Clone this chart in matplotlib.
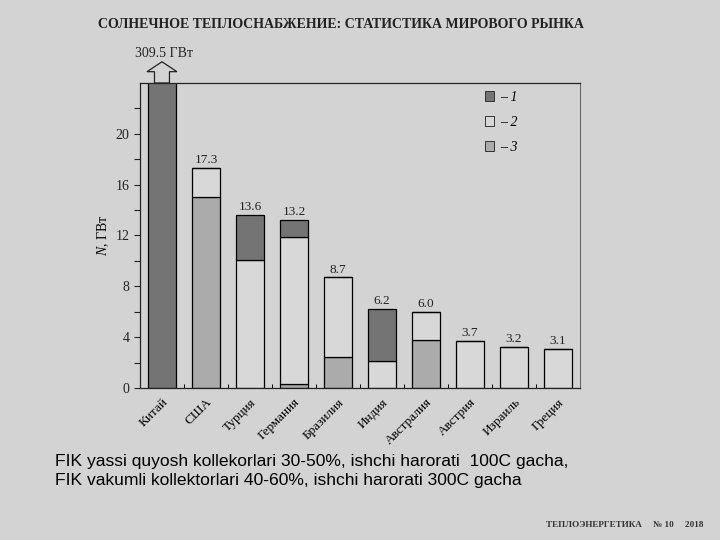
import numpy as np
import matplotlib.pyplot as plt
from matplotlib.patches import FancyArrow, Rectangle

plt.rcParams['mathtext.fontset'] = 'custom'
plt.rcParams['mathtext.it'] = 'Liberation Serif:italic'

# data
countries = ['Китай', 'США', 'Турция', 'Германия', 'Бразилия', 'Индия',
             'Австралия', 'Австрия', 'Израиль', 'Греция']
totals = [309.5, 17.3, 13.6, 13.2, 8.7, 6.2, 6.0, 3.7, 3.2, 3.1]
s3 = [0, 15.0, 0, 0.3, 2.4, 0, 3.8, 0, 0, 0]          # medium gray, bottom
s2 = [0, 2.3, 10.1, 11.6, 6.3, 2.1, 2.2, 3.7, 3.2, 3.1]  # light gray, middle
s1 = [309.5, 0, 3.5, 1.3, 0, 4.1, 0, 0, 0, 0]          # dark gray, top
value_labels = ['309.5 ГВт', '17.3', '13.6', '13.2', '8.7', '6.2', '6.0', '3.7', '3.2', '3.1']
yticks = [0, 4, 8, 12, 16, 20]

bg = '#d3d3d3'
c1, c2, c3 = '#747474', '#d8d8d8', '#ababab'
serif = ['Liberation Serif', 'DejaVu Serif']

fig = plt.figure(figsize=(7.2, 5.4), dpi=100, facecolor=bg)
ax = fig.add_axes([0.1944, 0.2815, 0.6111, 0.5648])
ax.set_facecolor(bg)

x = np.arange(len(countries))
w = 0.64
b3 = np.array(s3)
b2 = b3 + np.array(s2)
ax.bar(x, s3, w, color=c3, edgecolor='black', linewidth=0.9)
ax.bar(x, s2, w, bottom=b3, color=c2, edgecolor='black', linewidth=0.9)
ax.bar(x, s1, w, bottom=b2, color=c1, edgecolor='black', linewidth=0.9)

ax.set_xlim(-0.5, 9.5)
ax.set_ylim(0, 24)

# value labels
for i, t in enumerate(totals):
    if i == 0:
        continue
    ax.text(x[i], t + 0.15, value_labels[i], ha='center', va='bottom',
            fontsize=9.5, family=serif, color='#222222')

# arrow for China
ax.add_patch(FancyArrow(0, 24, 0, 1.67, width=0.34, head_width=0.68,
                        head_length=0.78, length_includes_head=True,
                        fc=bg, ec='#222222', lw=0.9, clip_on=False))
ax.text(0.05, 25.8, value_labels[0], ha='center', va='bottom',
        fontsize=10, family=serif, color='#222222')

ax.set_yticks(yticks)
ax.set_yticks(np.arange(2, 24, 4), minor=True)
ax.set_yticklabels([str(v) for v in yticks], family=serif, fontsize=10)
ax.tick_params(axis='y', which='both', direction='out', length=4, width=0.8, colors='#222222')
ax.set_xticks(x)
ax.set_xticklabels(countries, rotation=45, ha='right', rotation_mode='anchor',
                   family=serif, fontsize=9.5)
ax.set_xticks(x[:-1] + 0.5, minor=True)
ax.tick_params(axis='x', which='major', length=0, pad=6)
ax.tick_params(axis='x', which='minor', direction='in', length=3, width=0.7)

for s in ['left', 'bottom', 'top']:
    ax.spines[s].set_color('#222222')
    ax.spines[s].set_linewidth(0.9)
ax.spines['right'].set_color('#666666')

ax.set_ylabel('$N$, ГВт', family=serif, fontsize=10, labelpad=3)

# legend
handles = [Rectangle((0, 0), 1, 1, fc=c, ec='#333333', lw=0.7) for c in (c1, c2, c3)]
ax.legend(handles, ['– 1', '– 2', '– 3'],
          loc='upper left', bbox_to_anchor=(0.755, 1.015), frameon=False,
          handlelength=0.7, handleheight=0.7, handletextpad=0.4,
          labelspacing=0.85, prop={'family': serif, 'size': 10, 'style': 'italic'})

fig.text(0.474, 0.955, 'СОЛНЕЧНОЕ ТЕПЛОСНАБЖЕНИЕ: СТАТИСТИКА МИРОВОГО РЫНКА',
         ha='center', va='center', family=serif, fontsize=10, weight='bold',
         color='#222222')

fig.text(0.076, 0.145, 'FIK yassi quyosh kollekorlari 30-50%, ishchi harorati  100C gacha,',
         ha='left', va='center', family='Liberation Sans', fontsize=12.6, color='black')
fig.text(0.076, 0.11, 'FIK vakumli kollektorlari 40-60%, ishchi harorati 300C gacha',
         ha='left', va='center', family='Liberation Sans', fontsize=12.6, color='black')

fig.text(0.867, 0.028, 'ТЕПЛОЭНЕРГЕТИКА     № 10     2018', ha='center', va='center',
         family=serif, fontsize=6.6, weight='bold', color='#333333')

fig.savefig('out.png', dpi=100, facecolor=bg)
